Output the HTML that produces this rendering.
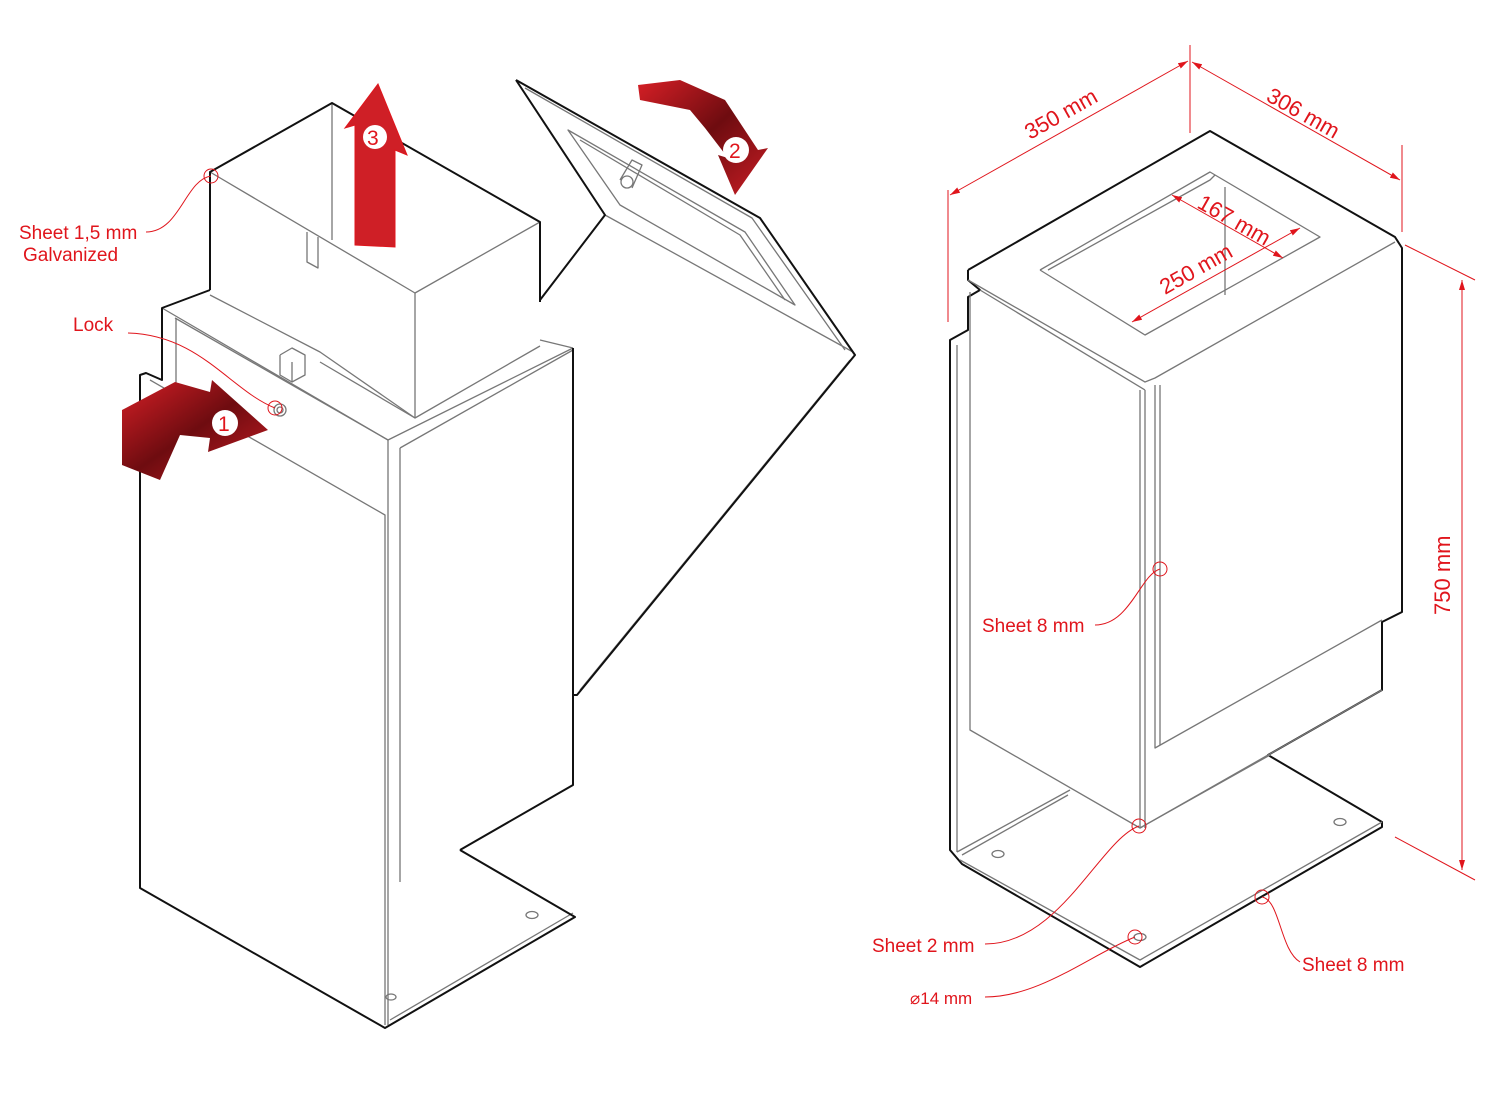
<!DOCTYPE html>
<html><head><meta charset="utf-8"><style>
html,body{margin:0;padding:0;background:#fff;width:1500px;height:1100px;overflow:hidden}
svg text{font-family:"Liberation Sans","DejaVu Sans",sans-serif;fill:#e0151c;font-size:19px}
</style></head><body>
<svg width="1500" height="1100" viewBox="0 0 1500 1100" xmlns="http://www.w3.org/2000/svg">
<defs>
<linearGradient id="g1" x1="0" y1="0" x2="1" y2="1"><stop offset="0" stop-color="#d61f26"/><stop offset="0.5" stop-color="#6e0c10"/><stop offset="1" stop-color="#c81d24"/></linearGradient>
<marker id="ar" viewBox="0 0 10 6" refX="10" refY="3" markerWidth="10" markerHeight="6" orient="auto-start-reverse"><path d="M0,0 L10,3 L0,6 z" fill="#e0151c"/></marker>
</defs>
<g fill="none" stroke-linejoin="round">
<g stroke="#777" stroke-width="1.3">
<polyline points="162,308 388,440 573,348"/>
<polyline points="175,318 388,440"/>
<line x1="388" y1="440" x2="388" y2="1025"/>
<line x1="400" y1="448" x2="400" y2="882"/>
<polyline points="400,448 573,350"/>
<polyline points="150,380 385,515 385,1025"/>
<line x1="176" y1="318" x2="176" y2="395"/>
<polyline points="210,290 210,172 415,293 540,222"/>
<line x1="332" y1="103" x2="332" y2="240"/>
<line x1="415" y1="293" x2="415" y2="418"/>
<polyline points="210,295 320,352 415,418"/>
<polyline points="307,232 307,262 318,268 318,237"/>
<polyline points="280,355 280,375 292,382 305,375 305,355 292,348 280,355"/>
<polyline points="292,362 292,382"/>
<polyline points="320,362 415,418 540,346"/>
<line x1="540" y1="340" x2="573" y2="348"/>
<circle cx="280" cy="410" r="6"/><circle cx="280" cy="410" r="3"/>
<polyline points="460,850 575,917"/>
<polyline points="390,1020 573,913"/>
<ellipse cx="532" cy="915" rx="6" ry="3.5"/>
<ellipse cx="391" cy="997" rx="5" ry="3"/>
<polyline points="525,88 752,218 845,350"/>
<polygon points="568,130 745,232 795,305 620,205"/>
<polyline points="580,140 740,235 785,300"/>
<polyline points="605,215 853,352"/>
<polyline points="580,690 850,360"/>
<circle cx="627" cy="182" r="6"/>
<polyline points="620,180 632,160 642,165 632,188"/>
</g>
<g stroke="#111" stroke-width="2">
<polyline points="210,290 210,172 332,103 540,222 540,302"/>
<polyline points="210,290 162,308 162,380 146,373 140,375 140,888 385,1028 575,917 460,850"/>
<polyline points="573,348 573,785 460,850"/>
<polyline points="516,80 760,218 855,355 577,695 573,695"/>
<polyline points="516,80 605,215 540,300"/>
<polyline points="968,270 1210,131 1395,237 1402,248 1402,612 1382,622 1382,690 1268,755 1382,822 1382,827 1140,967 962,864 950,850 950,340 968,330 968,297 980,290 968,280 968,270"/>
</g>
<g stroke="#777" stroke-width="1.3">
<polyline points="968,280 1145,382 1155,378 1395,242"/>
<polyline points="980,290 1145,390"/>
<polyline points="1040,270 1210,172 1320,237 1145,335 1040,270"/>
<polyline points="1048,270 1210,180 1215,175"/>
<line x1="1225" y1="187" x2="1225" y2="295"/>
<polyline points="970,292 970,730 1140,828 1270,755"/>
<line x1="1140" y1="390" x2="1140" y2="828"/>
<line x1="1145" y1="390" x2="1145" y2="828"/>
<polyline points="1155,385 1155,748 1382,620"/>
<polyline points="1160,385 1160,745"/>
<line x1="1140" y1="828" x2="1382" y2="690"/>
<line x1="957" y1="345" x2="957" y2="852"/>
<polyline points="957,852 1070,790"/>
<polyline points="960,860 1140,960 1382,822"/>
<polyline points="962,855 1068,795"/>
<ellipse cx="998" cy="854" rx="6" ry="3.5"/>
<ellipse cx="1340" cy="822" rx="6" ry="3.5"/>
<ellipse cx="1140" cy="937" rx="6" ry="3.5"/>
</g>
</g>
<path d="M355,245 L355,125 L345,128 L378,84 L407,155 L395,150 L395,247 z" fill="#cf1f26" stroke="#e0151c"/>
<circle cx="375" cy="137" r="12" fill="#fff"/><text x="367" y="145" style="font-size:21px">3</text>
<path d="M122,410 L175,382 L210,392 L212,380 L268,430 L208,452 L210,438 L180,435 L160,480 L122,465 z" fill="url(#g1)"/>
<circle cx="225" cy="423" r="13" fill="#fff"/><text x="218" y="431" style="font-size:21px">1</text>
<path d="M638,85 L680,80 L725,100 L758,150 L768,148 L735,195 L718,155 L728,158 L705,128 L690,110 L640,100 z" fill="url(#g1)"/>
<circle cx="736" cy="150" r="13" fill="#fff"/><text x="729" y="158" style="font-size:21px">2</text>
<g fill="none" stroke="#e0151c" stroke-width="1">
<circle cx="211" cy="176" r="7"/>
<path d="M146,232 C180,232 185,180 211,176"/>
<circle cx="275" cy="408" r="7"/>
<path d="M128,333 C200,335 230,390 275,408"/>
<circle cx="1160" cy="569" r="7"/>
<path d="M1095,625 C1130,625 1140,575 1160,569"/>
<circle cx="1139" cy="826" r="7"/>
<path d="M985,944 C1060,944 1100,840 1139,826"/>
<circle cx="1135" cy="937" r="7"/>
<path d="M985,997 C1040,997 1090,955 1135,937"/>
<circle cx="1262" cy="897" r="7"/>
<path d="M1300,962 C1280,950 1280,900 1262,897"/>
<line x1="948" y1="190" x2="948" y2="322"/>
<line x1="1190" y1="45" x2="1190" y2="133"/>
<line x1="1402" y1="145" x2="1402" y2="232"/>
<line x1="950" y1="195" x2="1188" y2="61" marker-start="url(#ar)" marker-end="url(#ar)"/>
<line x1="1192" y1="62" x2="1400" y2="180" marker-start="url(#ar)" marker-end="url(#ar)"/>
<line x1="1405" y1="245" x2="1475" y2="280"/>
<line x1="1395" y1="837" x2="1475" y2="880"/>
<line x1="1462" y1="280" x2="1462" y2="870" marker-start="url(#ar)" marker-end="url(#ar)"/>
<line x1="1172" y1="195" x2="1283" y2="258" marker-start="url(#ar)" marker-end="url(#ar)"/>
<line x1="1132" y1="322" x2="1300" y2="228" marker-start="url(#ar)" marker-end="url(#ar)"/>
</g>
<text x="19" y="239">Sheet 1,5 mm</text>
<text x="23" y="261">Galvanized</text>
<text x="73" y="331">Lock</text>
<text x="982" y="632">Sheet 8 mm</text>
<text x="872" y="952">Sheet 2 mm</text>
<text x="910" y="1004" style="font-size:17px">⌀14 mm</text>
<text x="1302" y="971">Sheet 8 mm</text>
<text transform="translate(1030,140) rotate(-29.5)" style="font-size:22px">350 mm</text>
<text transform="translate(1265,100) rotate(29.5)" style="font-size:22px">306 mm</text>
<text transform="translate(1450,615) rotate(-90)" style="font-size:22px">750 mm</text>
<text transform="translate(1196,207) rotate(29.5)" style="font-size:22px">167 mm</text>
<text transform="translate(1165,295) rotate(-29.5)" style="font-size:22px">250 mm</text>
</svg>
</body></html>
